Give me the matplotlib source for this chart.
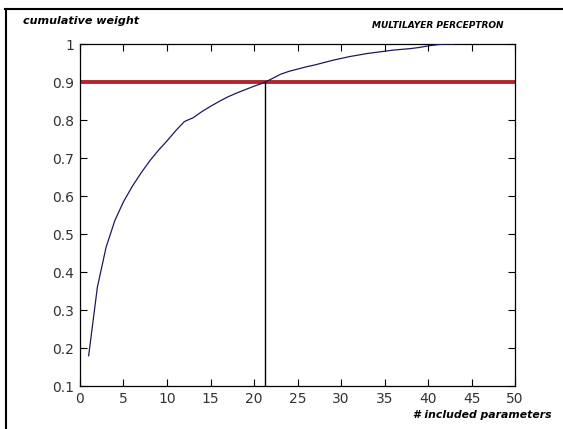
import matplotlib
matplotlib.use("Agg")
import matplotlib.pyplot as plt
from matplotlib.lines import Line2D

# Data
n_params = list(range(1, 44))
cum_weight = [0.18, 0.36, 0.465, 0.535, 0.585, 0.625, 0.66, 0.692, 0.72, 0.745,
              0.772, 0.796, 0.806, 0.822, 0.836, 0.849, 0.861, 0.871, 0.88, 0.889,
              0.897, 0.908, 0.92, 0.928, 0.934, 0.94, 0.945, 0.951, 0.957, 0.962,
              0.967, 0.971, 0.975, 0.978, 0.981, 0.984, 0.986, 0.988, 0.991, 0.995,
              0.998, 1.0, 1.0]
threshold = 0.9
cutoff_x = 21.3
x_ticks = list(range(0, 51, 5))
y_ticks = [0.1, 0.2, 0.3, 0.4, 0.5, 0.6, 0.7, 0.8, 0.9, 1.0]
y_tick_labels = ["0.1", "0.2", "0.3", "0.4", "0.5", "0.6", "0.7", "0.8", "0.9", "1"]

fig = plt.figure(figsize=(5.63, 4.29), dpi=100)
ax = fig.add_axes([0.142, 0.1, 0.773, 0.7974])

ax.plot(n_params, cum_weight, color="#1a1a5e", linewidth=0.9, zorder=3)
ax.axhline(threshold, color="#b0262c", linewidth=2.8, zorder=2)
ax.plot([cutoff_x, cutoff_x], [0.1, threshold], color="black", linewidth=1.0, zorder=2)

ax.set_xlim(0, 50)
ax.set_ylim(0.1, 1.0)
ax.set_xticks(x_ticks)
ax.set_yticks(y_ticks)
ax.set_yticklabels(y_tick_labels)
ax.tick_params(direction="in", top=True, right=True, length=5, width=0.8,
               labelsize=10, labelcolor="#333333", pad=4)
for s in ax.spines.values():
    s.set_linewidth(0.9)

fig.text(0.04, 0.952, "cumulative weight", fontsize=8, fontweight="bold",
         style="italic", ha="left", va="center")
fig.text(0.66, 0.94, "MULTILAYER PERCEPTRON", fontsize=6.5, fontweight="bold",
         style="italic", ha="left", va="center")
fig.text(0.98, 0.033, "# included parameters", fontsize=7.8, fontweight="bold",
         style="italic", ha="right", va="center")

# frame lines at top and left, as in the scanned figure
fig.add_artist(Line2D([0.009, 1.0], [0.979, 0.979], color="black", linewidth=1.5))
fig.add_artist(Line2D([0.011, 0.011], [0.0, 0.979], color="black", linewidth=1.5))

fig.savefig("out.png", dpi=100)
